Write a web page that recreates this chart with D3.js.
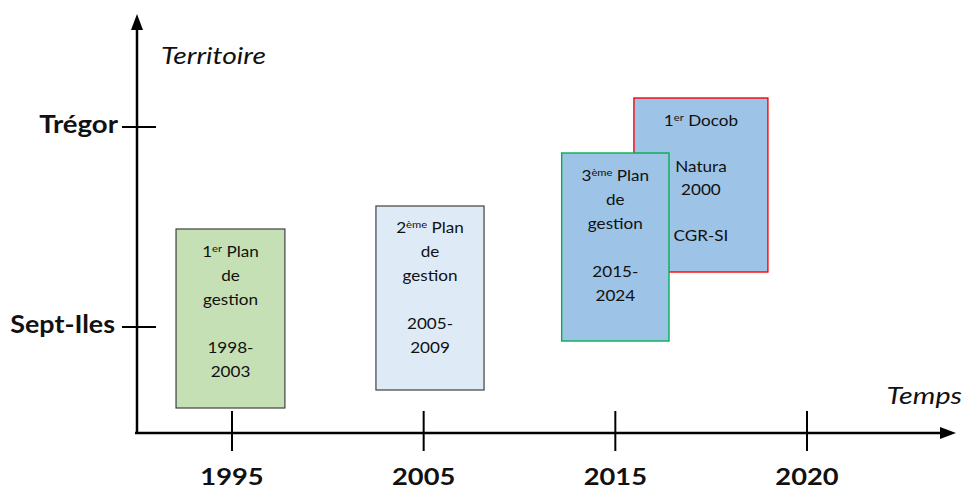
<!DOCTYPE html>
<html><head><meta charset="utf-8">
<script src="https://cdn.jsdelivr.net/npm/d3@7"></script>
<style>html,body{margin:0;padding:0;background:#fff}svg{display:block}</style>
</head><body>
<svg id="c" width="965" height="491"></svg>
<script>
// ---- data ----
const years = ["1995", "2005", "2015", "2020"];
const territories = ["Sept-Iles", "Trégor"];
// box extents: x in time-axis index units (0 = 1995 tick), y in territory units (0 = Sept-Iles, 1 = Trégor)
const planNames = ["plan1", "plan2", "docob", "plan3"];
const planX0 = [-0.292, 0.751, 2.097, 1.72];
const planX1 = [0.276, 1.315, 2.796, 2.28];
const planY0 = [-0.405, -0.315, 0.275, -0.07];
const planY1 = [0.49, 0.605, 1.145, 0.87];
const planLines = [
  [["1", "er", " Plan"], ["de"], ["gestion"], [""], ["1998-"], ["2003"]],
  [["2", "ème", " Plan"], ["de"], ["gestion"], [""], ["2005-"], ["2009"]],
  [["1", "er", " Docob"], [""], ["Natura"], ["2000"], [""], ["CGR-SI"]],
  [["3", "ème", " Plan"], ["de"], ["gestion"], [""], ["2015-"], ["2024"]]
];
const planFill = ["#c5e0b4", "#deebf7", "#9dc3e6", "#9dc3e6"];
const planStroke = ["#404040", "#404040", "#ff0000", "#00b050"];
const planTextTop = [252, 228, 121, 176];

// ---- chart ----
const svg = d3.select("#c");
const font = "Lato, 'Open Sans', sans-serif";
const SX = 1.2; // horizontal stretch of the original drawing's text
const x = d3.scaleLinear().domain([0, 3]).range([232, 807]);
const y = d3.scaleLinear().domain([0, 1]).range([327, 127]);
const axisY = 433, axisX = 137;

function label(parent, px, py, opts) {
  const gg = parent.append("g").attr("transform", `translate(${px},${py}) scale(${opts.sx || SX},1)`);
  return gg.append("text")
    .attr("text-anchor", opts.anchor || "start")
    .attr("font-family", font)
    .attr("font-size", opts.size)
    .attr("font-weight", opts.weight || "normal")
    .attr("font-style", opts.style || "normal")
    .attr("fill", "#111");
}

const plans = planNames.map((n, i) => ({
  name: n, x0: planX0[i], x1: planX1[i], y0: planY0[i], y1: planY1[i],
  lines: planLines[i], fill: planFill[i], stroke: planStroke[i], top: planTextTop[i]
}));

const g = svg.append("g").selectAll("g").data(plans).join("g");
g.append("rect")
  .attr("x", d => x(d.x0)).attr("width", d => x(d.x1) - x(d.x0))
  .attr("y", d => y(d.y1)).attr("height", d => y(d.y0) - y(d.y1))
  .attr("fill", d => d.fill).attr("stroke", d => d.stroke)
  .attr("stroke-width", d => d.stroke === "#404040" ? 1.2 : 1.4);
g.each(function (d) {
  const cx = (x(d.x0) + x(d.x1)) / 2;
  const sel = d3.select(this);
  d.lines.forEach((parts, k) => {
    if (parts[0] === "") return;
    const ly = d.top + k * (d.name === "docob" ? 23 : 24) + 5;
    const t = label(sel, cx, ly, { anchor: "middle", size: 14.5, sx: 1.18 });
    if (parts.length === 1) {
      t.text(parts[0]);
    } else {
      t.append("tspan").text(parts[0]);
      t.append("tspan").attr("font-size", 9.5).attr("dy", -5).text(parts[1]);
      t.append("tspan").attr("dy", 5).text(parts[2]);
    }
  });
});

// axes
svg.append("line").attr("x1", axisX).attr("x2", axisX).attr("y1", axisY + 1).attr("y2", 28)
  .attr("stroke", "#000").attr("stroke-width", 2.5);
svg.append("path").attr("d", `M${axisX - 6},30 L${axisX},14 L${axisX + 6},30 Z`).attr("fill", "#000");
svg.append("line").attr("x1", axisX - 2).attr("x2", 942).attr("y1", axisY).attr("y2", axisY)
  .attr("stroke", "#000").attr("stroke-width", 2.5);
svg.append("path").attr("d", `M940,${axisY - 6} L956,${axisY} L940,${axisY + 6} Z`).attr("fill", "#000");

// x ticks
svg.append("g").selectAll("line").data(years).join("line")
  .attr("x1", (d, i) => x(i)).attr("x2", (d, i) => x(i))
  .attr("y1", 411).attr("y2", 451).attr("stroke", "#000").attr("stroke-width", 2);
const xl = svg.append("g");
years.forEach((d, i) => label(xl, x(i), 485, { anchor: "middle", size: 22, weight: "bold", sx: 1.24 }).text(d));

// y ticks
svg.append("g").selectAll("line").data(territories).join("line")
  .attr("x1", 122).attr("x2", 156).attr("y1", (d, i) => y(i)).attr("y2", (d, i) => y(i))
  .attr("stroke", "#000").attr("stroke-width", 2);
const yl = svg.append("g");
territories.forEach((d, i) => label(yl, i === 1 ? 118 : 115, y(i) + 6,
  { anchor: "end", size: 24, weight: "bold", sx: i === 1 ? 1.15 : 1.12 }).text(d));

// axis titles
label(svg, 161, 64, { size: 23.5, style: "italic", sx: 1.2 }).text("Territoire");
label(svg, 962, 404, { anchor: "end", size: 23.5, style: "italic", sx: 1.22 }).text("Temps");
</script>
</body></html>
